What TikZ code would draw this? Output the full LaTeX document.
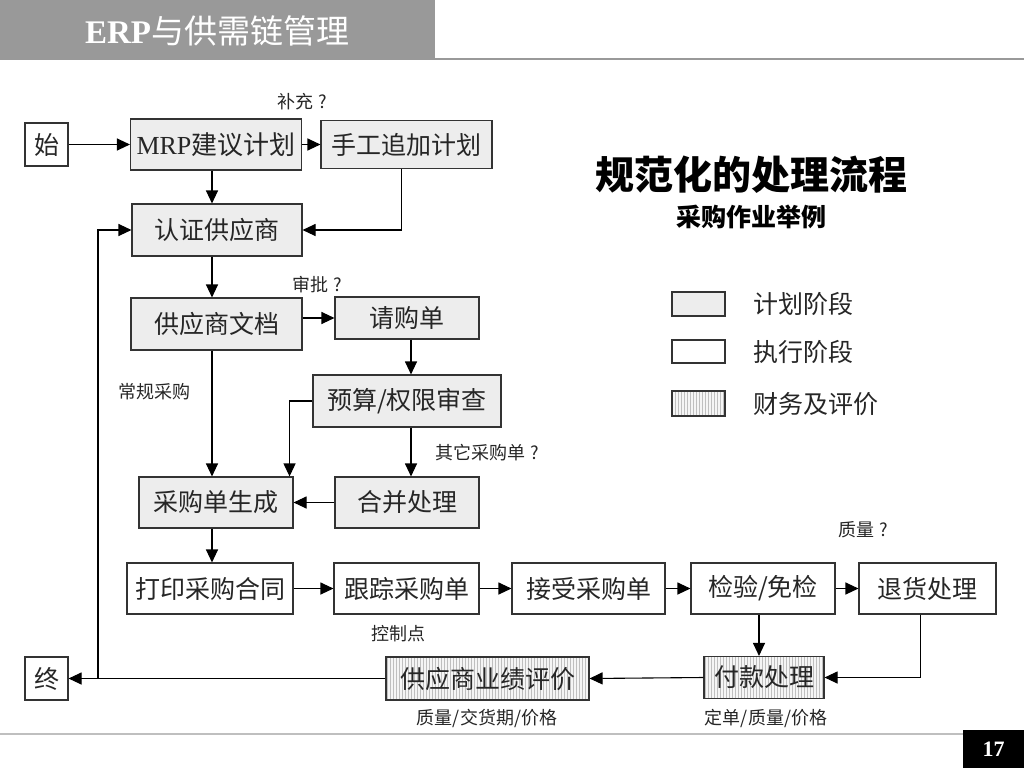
\documentclass[tikz,border=0pt]{standalone}
\usepackage{fontspec}
\setmainfont{Liberation Serif}
\newfontfamily\cjk{Noto Sans CJK SC}
\usetikzlibrary{arrows.meta,patterns}
\begin{document}
\begin{tikzpicture}[x=1pt,y=-1pt,
  base/.style={draw=black!80, line width=1.1pt, inner sep=0pt, font=\cjk\fontsize{25}{28}\selectfont, text=black!85},
  sz/.style 2 args={minimum width=#1pt, minimum height=#2pt},
  pbox/.style={base, fill=black!7},
  wbox/.style={base, fill=white},
  hbox/.style={base, preaction={fill=black!4}, pattern=vertical lines, pattern color=black!25},
  arr/.style={line width=1.1pt, -{Triangle[length=13pt,width=12pt]}},
  lbl/.style={font=\cjk\fontsize{18}{20}\selectfont, text=black!85},
  leg/.style={font=\cjk\fontsize{25}{28}\selectfont, text=black!85, anchor=west},
]
\useasboundingbox (0,0) rectangle (1024,768);
% header
\fill[black!40] (0,0) rectangle (435,60);
\draw[black!40, line width=1.5pt] (435,59) -- (1024,59);
\node[text=white, font=\fontsize{33}{36}\selectfont] (hdr) at (217,31) {\bfseries ERP{\cjk\mdseries 与供需链管理}};
% footer
\draw[black!25, line width=1.5pt] (0,734) -- (963,734);
\fill[black] (963,730) rectangle (1024,768);
\node[text=white, font=\fontsize{22}{24}\selectfont\bfseries] (pg) at (993.5,749) {17};
% titles
\node[font=\cjk\bfseries\fontsize{39}{42}\selectfont] (t1) at (751,175) {规范化的处理流程};
\node[font=\cjk\bfseries\fontsize{25}{28}\selectfont] (t2) at (751,217) {采购作业举例};
% legend
\node[pbox, sz={53}{24}] (lg1) at (698.5,304) {};
\node[wbox, sz={53}{23}] (lg2) at (698.5,351.5) {};
\node[hbox, sz={53}{25}] (lg3) at (698.5,403.5) {};
\node[leg] (lt1) at (750,304) {计划阶段};
\node[leg] (lt2) at (750,352) {执行阶段};
\node[leg] (lt3) at (750,404) {财务及评价};
% nodes
\node[wbox, sz={43}{43}] (start) at (46.5,144.5) {始};
\node[pbox, sz={171}{51}] (mrp) at (216,144.5) {\fontsize{26}{30}\selectfont{\rmfamily MRP}建议计划};
\node[pbox, sz={171}{48}] (manual) at (406.5,144.5) {手工追加计划};
\node[pbox, sz={170}{52}] (cert) at (217,230) {认证供应商};
\node[pbox, sz={171}{52}] (doc) at (216.5,324) {供应商文档};
\node[pbox, sz={144}{42}] (req) at (407,318) {请购单};
\node[pbox, sz={188}{52}] (budget) at (407,401) {预算/权限审查};
\node[pbox, sz={154}{51}] (gen) at (216,502.5) {采购单生成};
\node[pbox, sz={144}{51}] (merge) at (407,502.5) {合并处理};
\node[wbox, sz={166}{51}] (print) at (210,588.5) {打印采购合同};
\node[wbox, sz={145}{51}] (track) at (406.5,588.5) {跟踪采购单};
\node[wbox, sz={153}{51}] (accept) at (588.5,588.5) {接受采购单};
\node[wbox, sz={144}{51}] (inspect) at (763,588.5) {检验/免检};
\node[wbox, sz={137}{51}] (ret) at (927.5,588.5) {退货处理};
\node[hbox, sz={120}{42}] (pay) at (764,677.5) {付款处理};
\node[hbox, sz={203}{43}] (eval) at (487.5,678.5) {供应商业绩评价};
\node[wbox, sz={43}{43}] (end) at (46.5,678.5) {终};
% labels
\node[lbl] (l1) at (302,102) {补充\hspace{0.3em}?};
\node[lbl] (l2) at (317,285) {审批\hspace{0.3em}?};
\node[lbl] (l3) at (154,392) {常规采购};
\node[lbl] (l4) at (487,453) {其它采购单\hspace{0.3em}?};
\node[lbl] (l5) at (398,634) {控制点};
\node[lbl] (l6) at (863,530) {质量\hspace{0.3em}?};
\node[lbl] (l7) at (487,718) {质量/交货期/价格};
\node[lbl] (l8) at (766,718) {定单/质量/价格};
% helper coordinates
\coordinate (sp) at (212,0);
\coordinate (lp) at (98,0);
% connectors
\draw[arr] (start.east) -- (mrp.west);
\draw[arr] (mrp.east) -- (manual.west);
\draw[arr] (mrp.south -| sp) -- (cert.north -| sp);
\draw[arr] ([xshift=-5pt]manual.south) |- (cert.east);
\draw[arr] (cert.south -| sp) -- (doc.north -| sp);
\draw[arr] (doc.east |- req.west) -- (req.west);
\draw[arr] ([xshift=4pt]req.south) -- ([xshift=4pt]budget.north);
\draw[arr] (budget.west) -| ([xshift=-4pt]gen.north east);
\draw[arr] ([xshift=4pt]budget.south) -- ([xshift=4pt]merge.north);
\draw[arr] (merge.west) -- (gen.east);
\draw[arr] (doc.south -| sp) -- (gen.north -| sp);
\draw[arr] (gen.south -| sp) -- (print.north -| sp);
\draw[arr] (print.east) -- (track.west);
\draw[arr] (track.east) -- (accept.west);
\draw[arr] (accept.east) -- (inspect.west);
\draw[arr] (inspect.east) -- (ret.west);
\draw[arr] ([xshift=-4pt]inspect.south) -- ([xshift=-5pt]pay.north);
\draw[arr] ([xshift=-7pt]ret.south) |- (pay.east);
\draw[arr] (pay.west) -- (eval.east);
\draw[arr] (eval.west) -- (end.east);
\draw[arr] (end.east -| lp) |- (cert.west);
\end{tikzpicture}
\end{document}
